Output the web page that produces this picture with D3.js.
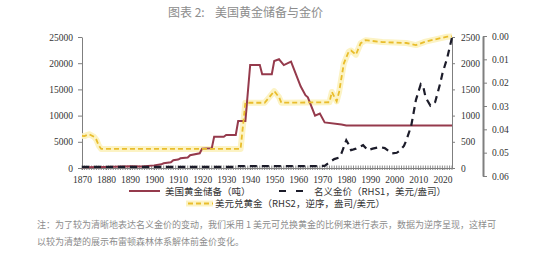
<!DOCTYPE html>
<html>
<head>
<meta charset="utf-8">
<script src="https://cdn.jsdelivr.net/npm/d3@7"></script>
<style>
  body { margin: 0; background: #fff; }
  svg { display: block; }
  .axis path, .axis line { stroke: #7f7f7f; }
</style>
</head>
<body>
<div id="chart"></div>
<script>
// US gold reserves (tonnes), left axis -- [year, value] points
var reserveYears = [1870,1880,1890,1895,1900,1903,1904,1907,1908,1910,1911,1914,1915,1919,1920,1924,1925,1929,1930,1934,1935,1938,1940,1944,1945,1949,1950,1952,1954,1957,1961,1963,1964,1967,1969,1971,1978,1980,2024];
var reserveVals  = [150,200,350,300,500,700,900,1100,1500,1600,1850,2000,2450,2800,3700,3750,5950,5950,6300,6300,8950,8950,19650,19650,17900,17900,20400,20750,19650,20300,15600,13900,13500,10000,10400,8700,8300,8130,8130];

// nominal gold price (USD/oz), RHS1
var priceYears = [1870,1933,1934,1968,1971,1973,1975,1977,1978,1980,1981,1982,1984,1987,1989,1991,1994,1996,1999,2001,2002,2004,2005,2007,2009,2011,2012,2013,2015,2017,2019,2020,2022,2024];
var priceVals  = [20.67,20.67,35,35,41,110,170,200,280,530,450,340,370,435,340,370,400,380,280,290,320,420,530,800,1300,1600,1560,1350,1190,1260,1600,1800,2100,2490];

// ounces per dollar, RHS2 (reversed)
var ozYears = [1870,1871,1873,1875,1876,1877,1878,1936,1938,1946,1948,1950,1952,1953,1973,1974,1976,1977,1979,1981,1982,1984,1986,1988,1995,2005,2009,2013,2018,2022,2024];
var ozVals  = [0.0428,0.0429,0.0421,0.0432,0.0445,0.0470,0.0484,0.0484,0.0286,0.0286,0.0262,0.0236,0.0262,0.0286,0.0284,0.0240,0.0280,0.0240,0.0117,0.0067,0.0062,0.0080,0.0031,0.0018,0.0026,0.0030,0.0039,0.0024,0.0012,0.0003,0.0002];

var xTicks = d3.range(1870, 2021, 10);
var leftTicks = [0,5000,10000,15000,20000,25000];
var rhs1Ticks = [0,500,1000,1500,2000,2500];
var rhs2Ticks = [0,0.01,0.02,0.03,0.04,0.05,0.06];

var width = 550, height = 266;
var tickFont = '"Liberation Serif", serif';
var cjkFont = '"Noto Sans CJK SC", sans-serif';

var svg = d3.select('#chart').append('svg')
    .attr('width', width)
    .attr('height', height);

var x = d3.scaleLinear().domain([1870, 2024]).range([82, 452]);
var yL = d3.scaleLinear().domain([0, 25000]).range([168, 37]);
var yR1 = d3.scaleLinear().domain([0, 2500]).range([168, 37]);
var yR2 = d3.scaleLinear().domain([0, 0.06]).range([36, 176]);

// title
var title = svg.append('g')
    .style('font-family', cjkFont)
    .style('font-size', '12px')
    .style('fill', '#8c8c8c');
title.append('text').attr('x', 168).attr('y', 17).text('图表 2:');
title.append('text').attr('x', 215).attr('y', 17).text('美国黄金储备与金价');

function styleTicks(g) {
  g.selectAll('text')
    .attr('font-family', null)
    .style('font-family', tickFont)
    .style('font-size', '9.5px')
    .style('fill', '#333');
}

// axes
svg.append('g')
    .attr('class', 'axis')
    .attr('transform', 'translate(82,0)')
    .call(d3.axisLeft(yL).tickValues(leftTicks).tickFormat(d3.format('d')).tickSize(4).tickPadding(5).tickSizeOuter(0))
    .call(styleTicks);

// yearly minor ticks on x axis
svg.append('g')
    .selectAll('line')
    .data(d3.range(1870, 2025))
    .join('line')
    .attr('x1', d => x(d)).attr('x2', d => x(d))
    .attr('y1', 165.5).attr('y2', 170)
    .attr('stroke', '#6f6f6f')
    .attr('stroke-width', 0.8);

svg.append('g')
    .attr('class', 'axis')
    .attr('transform', 'translate(0,168)')
    .call(d3.axisBottom(x).tickValues(xTicks).tickFormat(d3.format('d')).tickSize(2).tickPadding(6).tickSizeOuter(0))
    .call(styleTicks);

svg.append('g')
    .attr('class', 'axis')
    .attr('transform', 'translate(452,0)')
    .call(d3.axisRight(yR1).tickValues(rhs1Ticks).tickFormat(d3.format('d')).tickSize(3).tickPadding(6).tickSizeOuter(0))
    .call(styleTicks);

var ax2 = svg.append('g')
    .attr('class', 'axis')
    .attr('transform', 'translate(483,0)')
    .call(d3.axisRight(yR2).tickValues(rhs2Ticks).tickFormat(d3.format('.2f')).tickSize(4).tickPadding(5).tickSizeOuter(0))
    .call(styleTicks);
ax2.select('.domain').attr('stroke-width', 2).attr('stroke', '#8a8a8a');

// series
var reserves = reserveYears.map((d, i) => [d, reserveVals[i]]);
var price = priceYears.map((d, i) => [d, priceVals[i]]);
var oz = ozYears.map((d, i) => [d, ozVals[i]]);

var ozLine = d3.line().x(d => x(d[0])).y(d => yR2(d[1]));
svg.append('path')
    .attr('d', ozLine(oz))
    .attr('fill', 'none')
    .attr('stroke', '#fcf3c4')
    .attr('stroke-width', 6)
    .attr('stroke-linejoin', 'round');

svg.append('path')
    .attr('d', d3.line().x(d => x(d[0])).y(d => yL(d[1]))(reserves))
    .attr('fill', 'none')
    .attr('stroke', '#953a4c')
    .attr('stroke-width', 2);

svg.append('path')
    .attr('d', d3.line().x(d => x(d[0])).y(d => yR1(d[1]))(price))
    .attr('fill', 'none')
    .attr('stroke', '#1c1c2a')
    .attr('stroke-width', 2.2)
    .attr('stroke-dasharray', '7,5');

svg.append('path')
    .attr('d', ozLine(oz))
    .attr('fill', 'none')
    .attr('stroke', '#e9bd2c')
    .attr('stroke-width', 1.8)
    .attr('stroke-dasharray', '5,3');

// legend
var lg = svg.append('g')
    .style('font-family', cjkFont)
    .style('font-size', '9.5px')
    .style('fill', '#333');

lg.append('line').attr('x1', 129).attr('x2', 160).attr('y1', 191).attr('y2', 191)
    .attr('stroke', '#953a4c').attr('stroke-width', 2);
lg.append('text').attr('x', 165).attr('y', 194.5).text('美国黄金储备（吨）');

lg.append('line').attr('x1', 279).attr('x2', 304).attr('y1', 191).attr('y2', 191)
    .attr('stroke', '#1c1c2a').attr('stroke-width', 2.2).attr('stroke-dasharray', '7,10');
lg.append('text').attr('x', 314).attr('y', 194.5).text('名义金价（RHS1，美元/盎司）');

lg.append('line').attr('x1', 186).attr('x2', 213).attr('y1', 203.5).attr('y2', 203.5)
    .attr('stroke', '#fcf3c4').attr('stroke-width', 6);
lg.append('line').attr('x1', 188).attr('x2', 213).attr('y1', 203.5).attr('y2', 203.5)
    .attr('stroke', '#e9bd2c').attr('stroke-width', 1.8).attr('stroke-dasharray', '5,3');
lg.append('text').attr('x', 215).attr('y', 207).text('美元兑黄金（RHS2，逆序，盎司/美元）');

// note
var note = svg.append('g')
    .style('font-family', cjkFont)
    .style('font-size', '9px')
    .style('fill', '#8c8c8c');
note.append('text').attr('x', 37).attr('y', 228)
    .text('注：为了较为清晰地表达名义金价的变动，我们采用 1 美元可兑换黄金的比例来进行表示，数据为逆序呈现，这样可');
note.append('text').attr('x', 37).attr('y', 245)
    .text('以较为清楚的展示布雷顿森林体系解体前金价变化。');
</script>
</body>
</html>
